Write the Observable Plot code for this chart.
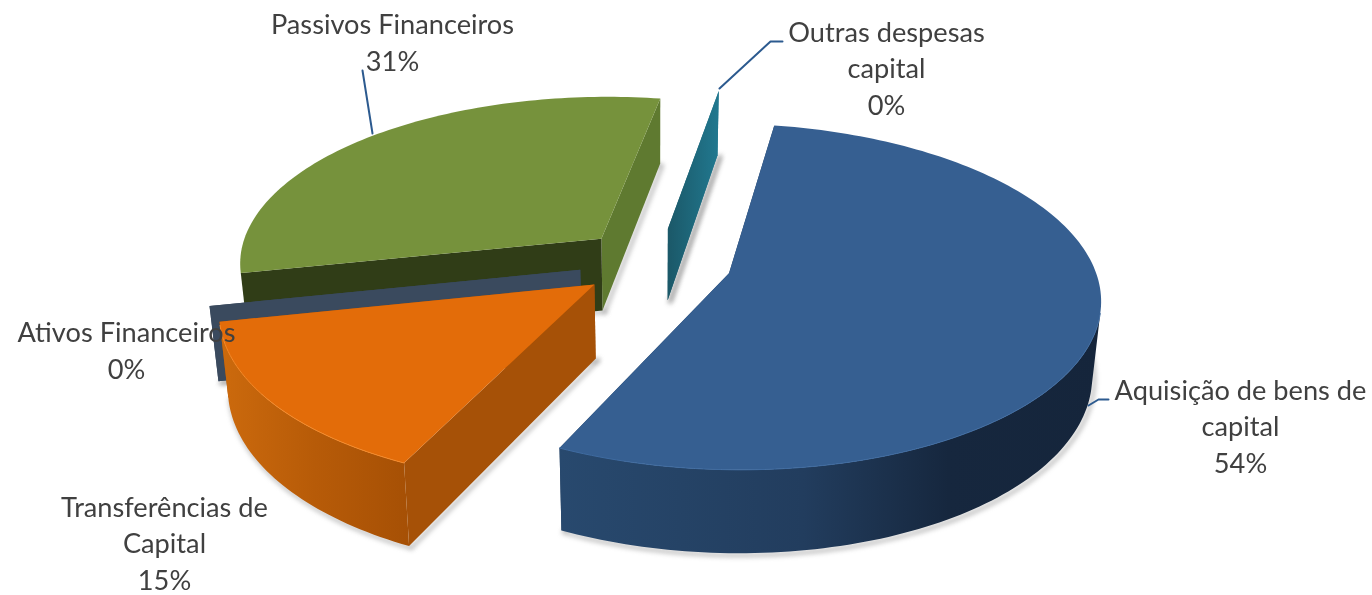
<!DOCTYPE html>
<html><head><meta charset="utf-8">
<style>
html,body{margin:0;padding:0;background:#fff}
svg{display:block}
g[aria-description="shadow"]{filter:blur(2.5px)}
#chart svg{filter:blur(0.45px)}
</style>
<script src="https://cdn.jsdelivr.net/npm/d3@7"></script>
<script src="https://cdn.jsdelivr.net/npm/@observablehq/plot@0.6"></script>
</head><body><div id="chart"></div>
<script>
// Data, in pie order (clockwise)
const categories = ["Aquisição de bens de\ncapital","Transferências de\nCapital","Ativos Financeiros","Passivos Financeiros","Outras despesas\ncapital"];
const shares = [54.4, 14.6, 0, 31, 0];
const drawOrder = [4, 3, 2, 1, 0];

// Styles per slice
const topColors   = ["#365f91","#e36c09","#3a4a5e","#76923c","#1f6f85"];
const wallFills   = ["url(#wallBlue)","url(#wallOrange)","#3a4a5e","#5f7a30","url(#wallTeal)"];
const startFills  = ["#223d5e","#a65107","#3a4a5e","#303d17","url(#wallTeal)"];
const endFills    = ["#223d5e","#a65107","#3a4a5e","#5f7a30","url(#wallTeal)"];
const rimColors   = ["#3f6ba0","#f58a2a","none","none","none"];

// Label placement
const labelX = [1240, 164, 126, 392, 886];
const labelY = [424, 541, 348, 40, 66];
const leaders = [
  [[1088,405],[1098,399],[1108,399]],
  [[719,88],[770,41],[782,41]],
  [[362,70],[372,133]]
];

// Pie projection settings
const W = 1372, H = 595;
const view = {x:655, y:262, rx:364, ry:167, tilt:0.135, explode:0.21, startDeg:9.6, depth:73, converge:0.98};

function project(X, Y){
  const s = 1/(1 - view.tilt*Y);
  const h = view.depth*(1 + 0.85*(s-1));
  const x = view.x + view.rx*X*s, y = view.y + view.ry*Y*s;
  return {x, y, bx: view.x + (x-view.x)*view.converge, by: y + h};
}
const total = d3.sum(shares);
let cursor = view.startDeg*Math.PI/180;
const slices = shares.map((v,i)=>{
  const a0 = cursor, a1 = cursor + v/total*2*Math.PI; cursor = a1;
  const mid = (a0+a1)/2;
  const Xo = view.explode*Math.sin(mid), Yo = -view.explode*Math.cos(mid);
  const n = Math.max(2, Math.round(v*3));
  const arc = d3.range(n+1).map(k=>{
    const a = a0+(a1-a0)*k/n;
    return {...project(Xo+Math.sin(a), Yo-Math.cos(a)), front: Math.cos(a) < -0.21};
  });
  return {i, apex: project(Xo,Yo), arc};
});
const rimPt = p=>({x:p.x,y:p.y}), basePt = p=>({x:p.bx,y:p.by});
const poly = (pts,fill)=>Plot.line(pts,{x:"x",y:"y",fill,stroke:"none"});

const marks = [];
marks.push(()=>{
  const ns="http://www.w3.org/2000/svg";
  const defs=document.createElementNS(ns,"defs");
  const grads={wallBlue:[[0,"#28496e"],[.45,"#223d5e"],[.72,"#16273e"],[1,"#15253b"]],
               wallOrange:[[0,"#cc6a0d"],[.5,"#b75b08"],[1,"#a65005"]],
               wallTeal:[[0,"#1b5868"],[1,"#21788f"]]};
  for(const id in grads){
    const g=document.createElementNS(ns,"linearGradient");g.setAttribute("id",id);
    for(const [o,c] of grads[id]){const s=document.createElementNS(ns,"stop");s.setAttribute("offset",o);s.setAttribute("stop-color",c);g.appendChild(s);}
    defs.appendChild(g);
  }
  return defs;
});
for(const idx of drawOrder){
  const s = slices[idx];
  const first = s.arc[0], last = s.arc[s.arc.length-1];
  // soft shadow under the walls
  marks.push(Plot.line([basePt(s.apex),basePt(last)].concat(s.arc.slice().reverse().map(basePt)).map(p=>({x:p.x+2,y:p.y+2})),
    {x:"x",y:"y",stroke:"#666",strokeOpacity:0.55,strokeWidth:3,ariaDescription:"shadow"}));
  marks.push(Plot.line([basePt(s.apex),basePt(first)].map(p=>({x:p.x+3,y:p.y+1})),
    {x:"x",y:"y",stroke:"#666",strokeOpacity:0.55,strokeWidth:3,ariaDescription:"shadow"}));
  // cut faces
  marks.push(poly([rimPt(s.apex),rimPt(last),basePt(last),basePt(s.apex)],endFills[idx]));
  marks.push(poly([rimPt(s.apex),rimPt(first),basePt(first),basePt(s.apex)],startFills[idx]));
  // outer wall, only where it faces the viewer
  const frontArc = s.arc.filter(p=>p.front);
  if(shares[idx]>0 && frontArc.length>1)
    marks.push(poly(frontArc.map(rimPt).concat(frontArc.slice().reverse().map(basePt)),wallFills[idx]));
  if(shares[idx]>0){
    // top face
    marks.push(poly([rimPt(s.apex),...s.arc.map(rimPt)],topColors[idx]));
    if(rimColors[idx]!=="none")
      marks.push(Plot.line(s.arc.filter(p=>p.front).map(rimPt),{x:"x",y:"y",stroke:rimColors[idx],strokeWidth:1}));
  }
}
for(const l of leaders){
  marks.push(Plot.line(l.map(([x,y])=>({x,y})),{x:"x",y:"y",stroke:"#2c5a8f",strokeWidth:2}));
}
const labels = categories.map((c,i)=>({t:`${c}\n${Math.round(shares[i])}%`,x:labelX[i],y:labelY[i]}));
marks.push(Plot.text(labels,{x:"x",y:"y",text:"t",textAnchor:"middle",lineAnchor:"middle",lineHeight:1.35,
  fontFamily:"Lato",fontSize:27.2,fill:"#404040"}));

const chart = Plot.plot({
  width:W,height:H,margin:0,
  x:{domain:[0,W],range:[0,W],axis:null},
  y:{domain:[0,H],range:[0,H],axis:null},
  style:{background:"#fff"},
  marks
});
document.getElementById("chart").appendChild(chart);
</script></body></html>
